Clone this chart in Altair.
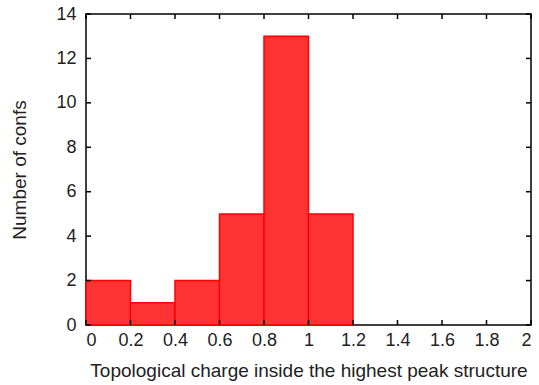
import altair as alt
import pandas as pd

bin_start = [0.0, 0.2, 0.4, 0.6, 0.8, 1.0]
bin_end = [0.2, 0.4, 0.6, 0.8, 1.0, 1.2]
counts = [2, 1, 2, 5, 13, 5]
x_ticks = [0, 0.2, 0.4, 0.6, 0.8, 1.0, 1.2, 1.4, 1.6, 1.8, 2.0]
y_ticks = [0, 2, 4, 6, 8, 10, 12, 14]

W, H = 445, 311
FONT = "Liberation Sans"

bars_df = pd.DataFrame({"start": bin_start, "end": bin_end, "count": counts})
xt_df = pd.DataFrame({"v": x_ticks})
yt_df = pd.DataFrame({"v": y_ticks})

xscale = alt.Scale(domain=[0, 2], nice=False, zero=False)
yscale = alt.Scale(domain=[0, 14], nice=False)

bars = alt.Chart(bars_df).mark_bar(
    fill="#ff3333", stroke="#ff0000", strokeWidth=1.5, opacity=1
).encode(
    x=alt.X("start:Q", scale=xscale,
            axis=alt.Axis(values=x_ticks, format="~g", title="Topological charge inside the highest peak structure",
                          labelPadding=6, titlePadding=12)),
    x2="end:Q",
    y=alt.Y("count:Q", scale=yscale,
            axis=alt.Axis(values=y_ticks, title="Number of confs", labelPadding=10, titlePadding=26)),
    y2=alt.datum(0),
)

tick_style = dict(color="black", thickness=1.5, size=5, opacity=1)

xb = alt.Chart(xt_df).mark_tick(**tick_style).encode(
    x=alt.X("v:Q", scale=xscale), y=alt.value(H - 2.5))
xt = alt.Chart(xt_df).mark_tick(**tick_style).encode(
    x=alt.X("v:Q", scale=xscale), y=alt.value(2.5))
yl = alt.Chart(yt_df).mark_tick(**tick_style).encode(
    y=alt.Y("v:Q", scale=yscale), x=alt.value(2.5))
yr = alt.Chart(yt_df).mark_tick(**tick_style).encode(
    y=alt.Y("v:Q", scale=yscale), x=alt.value(W - 2.5))

chart = alt.layer(bars, xb, xt, yl, yr).properties(
    width=W, height=H,
    autosize=alt.AutoSizeParams(type="none"),
    padding={"left": 86, "top": 14, "right": 8, "bottom": 60},
).configure_view(
    stroke="black", strokeWidth=1.5
).configure_axis(
    grid=False, domain=False, ticks=False,
    labelFont=FONT, labelFontSize=18, labelColor="#222",
    titleFont=FONT, titleFontSize=19, titleColor="#222", titleFontWeight="normal",
)

chart.save("out.html", embed_options={"renderer": "svg", "actions": False})
